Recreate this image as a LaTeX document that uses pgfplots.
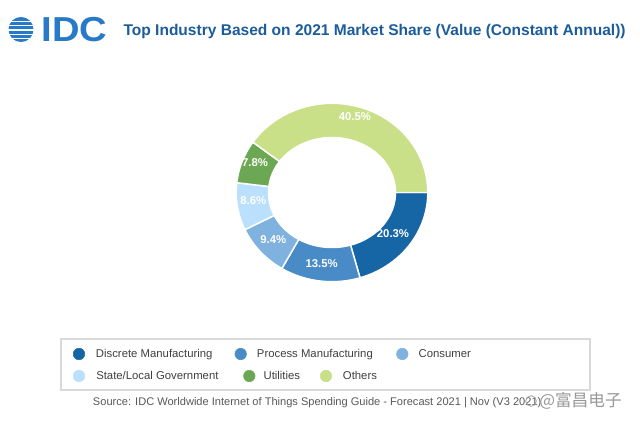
\documentclass[border=0pt]{standalone}
\usepackage{pgfplots}
\pgfplotsset{compat=1.18}
\usepackage{fontspec}
\setmainfont{Liberation Sans}
\newfontfamily\cjk{Noto Sans CJK SC}
\definecolor{cDiscrete}{RGB}{22,101,165}
\definecolor{cProcess}{RGB}{73,139,199}
\definecolor{cConsumer}{RGB}{127,178,222}
\definecolor{cState}{RGB}{187,224,253}
\definecolor{cUtilities}{RGB}{108,168,84}
\definecolor{cOthers}{RGB}{201,224,137}
\definecolor{titleblue}{RGB}{28,92,154}
\definecolor{logoblue}{RGB}{40,122,200}
\definecolor{legtext}{RGB}{64,64,64}
\definecolor{srctext}{RGB}{89,89,89}
% segment: start (cumulative %), value (%), colour
\newcommand{\seg}[3]{%
  \addplot[fill=#3, draw=white, line width=1.1pt, domain=0:81, samples=82]
  ({332 + ((x<40.5) ? 95.8 : 63.5)*cos(-3.596404*(#1 + #2*((x<40.5) ? x/40 : (81-x)/40)))},
   {235.5 + ((x<40.5) ? 89.2 : 55.0)*sin(-3.596404*(#1 + #2*((x<40.5) ? x/40 : (81-x)/40)))}) -- cycle;
}
\begin{document}
\begin{tikzpicture}
\begin{axis}[hide axis, scale only axis, width=480pt, height=321pt,
  xmin=0, xmax=640, ymin=0, ymax=428, clip=false]
\fill[white] (axis cs:0,0) rectangle (axis cs:640,428);
% donut: values 20.3, 13.5, 9.4, 8.6, 7.8, 40.5
\seg{0}{20.3}{cDiscrete}
\seg{20.3}{13.5}{cProcess}
\seg{33.8}{9.4}{cConsumer}
\seg{43.2}{8.6}{cState}
\seg{51.8}{7.8}{cUtilities}
\seg{59.6}{40.5}{cOthers}
% value labels
\addplot[draw=none, mark=none, nodes near coords, point meta=explicit symbolic,
  nodes near coords align=center,
  every node near coord/.style={text=white, inner sep=0pt, font=\bfseries\fontsize{8.5}{10}\selectfont}]
  coordinates {(355,311.3)[40.5\%] (393,194)[20.3\%] (321.7,164)[13.5\%]
               (273.3,188.7)[9.4\%] (253.3,227.3)[8.6\%] (255,265.7)[7.8\%]};
% legend box
\draw[black!15, line width=0.8pt] (axis cs:61,89) rectangle (axis cs:590,38);
\addplot[only marks, mark=*, mark size=4.3pt, color=cDiscrete] coordinates {(79,74)};
\addplot[only marks, mark=*, mark size=4.3pt, color=cProcess] coordinates {(240.7,74)};
\addplot[only marks, mark=*, mark size=4.3pt, color=cConsumer] coordinates {(402.3,74)};
\addplot[only marks, mark=*, mark size=4.3pt, color=cState] coordinates {(79,52)};
\addplot[only marks, mark=*, mark size=4.3pt, color=cUtilities] coordinates {(249.3,52)};
\addplot[only marks, mark=*, mark size=4.3pt, color=cOthers] coordinates {(326,52)};
\begin{scope}[every node/.style={anchor=base west, inner sep=0pt, text=legtext, font=\fontsize{8.5}{10}\selectfont}]
\node at (axis cs:95.7,70) {Discrete Manufacturing};
\node at (axis cs:256.7,70) {Process Manufacturing};
\node at (axis cs:418.3,70) {Consumer};
\node at (axis cs:96,48) {State/Local Government};
\node at (axis cs:263.3,48) {Utilities};
\node at (axis cs:342.7,48) {Others};
\end{scope}
% source
\node[anchor=base west, inner sep=0pt, text=srctext, font=\fontsize{8.3}{10}\selectfont]
  at (axis cs:92.7,22) {Source: IDC Worldwide Internet of Things Spending Guide - Forecast 2021 | Nov (V3 2021)};
% watermark
\draw[black!35, line width=0.6pt] (axis cs:531,27) circle[radius=4pt];
\node[anchor=west, inner sep=0pt, text=black!40, font=\cjk\fontsize{12.5}{14}\selectfont]
  at (axis cs:539,27) {@富昌电子};
% title
\node[anchor=base west, inner sep=0pt, text=titleblue, font=\bfseries\fontsize{11.65}{13}\selectfont]
  at (axis cs:123.3,392.3) {Top Industry Based on 2021 Market Share (Value (Constant Annual))};
% logo
\begin{scope}
\clip (axis cs:21,398.5) circle[radius=9.4pt];
\fill[logoblue] (axis cs:0,386) rectangle (axis cs:40,388.9);
\fill[logoblue] (axis cs:0,390.2) rectangle (axis cs:40,393.1);
\fill[logoblue] (axis cs:0,394.4) rectangle (axis cs:40,397.3);
\fill[logoblue] (axis cs:0,398.6) rectangle (axis cs:40,401.5);
\fill[logoblue] (axis cs:0,402.8) rectangle (axis cs:40,405.7);
\fill[logoblue] (axis cs:0,407) rectangle (axis cs:40,411);
\end{scope}
\node[anchor=base west, inner sep=0pt, text=logoblue, font=\bfseries\fontsize{26}{28}\selectfont]
  at (axis cs:41.5,386.3) {\scalebox{1.1}[1]{IDC}};
\end{axis}
\end{tikzpicture}
\end{document}
